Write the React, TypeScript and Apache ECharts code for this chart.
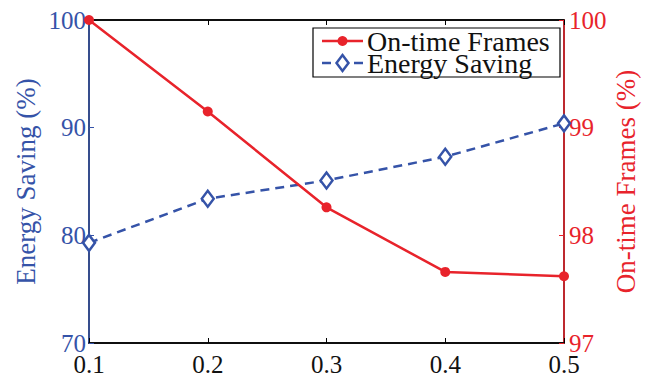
import React, { useEffect, useRef } from "react";
import * as echarts from "echarts";

const alphaValues = ["0.1", "0.2", "0.3", "0.4", "0.5"];
const onTimeFrames = [100, 99.15, 98.26, 97.66, 97.62];
const energySaving = [79.3, 83.4, 85.1, 87.3, 90.4];
const legendNames = ["On-time Frames", "Energy Saving"];

const BLUE = "#3553a8";
const RED = "#e8232b";
const FONT = "Liberation Serif";

export default function App() {
  const ref = useRef<HTMLDivElement>(null);
  useEffect(() => {
    const chart = echarts.init(ref.current!, undefined, { renderer: "svg" });
    const lx = 313, ly = 28, lw = 247, lh = 49;
    const r1 = ly + 13, r2 = ly + 35;
    const ix0 = 322, ix1 = 363, ixm = (ix0 + ix1) / 2;
    chart.setOption({
      animation: false,
      backgroundColor: "#ffffff",
      textStyle: { fontFamily: FONT },
      grid: {
        left: 89,
        right: 86,
        top: 20,
        bottom: 45,
        outerBoundsMode: "none",
        show: true,
        borderColor: "#000",
        borderWidth: 1.5,
      },
      graphic: [
        {
          type: "group",
          z: 100,
          children: [
            { type: "rect", shape: { x: lx, y: ly, width: lw, height: lh }, style: { fill: "#fff", stroke: "#000", lineWidth: 1.2 } },
            { type: "line", shape: { x1: ix0, y1: r1, x2: ix1, y2: r1 }, style: { stroke: RED, lineWidth: 2.5 } },
            { type: "circle", shape: { cx: ixm, cy: r1, r: 5 }, style: { fill: RED } },
            { type: "text", x: 367, y: r1, style: { text: legendNames[0], fontFamily: FONT, fontSize: 28, lineHeight: 21, fill: "#111", verticalAlign: "middle", align: "left" } },
            { type: "line", shape: { x1: ix0, y1: r2, x2: ix0 + 9, y2: r2 }, style: { stroke: BLUE, lineWidth: 2.5 } },
            { type: "line", shape: { x1: ix1 - 9, y1: r2, x2: ix1, y2: r2 }, style: { stroke: BLUE, lineWidth: 2.5 } },
            { type: "polygon", shape: { points: [[ixm, r2 - 8], [ixm + 6, r2], [ixm, r2 + 8], [ixm - 6, r2]] }, style: { fill: "#fff", stroke: BLUE, lineWidth: 2.5 } },
            { type: "text", x: 367, y: r2, style: { text: legendNames[1], fontFamily: FONT, fontSize: 28, lineHeight: 21, fill: "#111", verticalAlign: "middle", align: "left" } },
          ],
        },
      ],
      xAxis: [
        {
          type: "category",
          data: alphaValues,
          boundaryGap: false,
          position: "bottom",
          axisLine: { lineStyle: { color: "#000", width: 1.5 } },
          axisTick: { inside: true, length: 5, lineStyle: { color: "#000" } },
          axisLabel: { fontFamily: FONT, fontSize: 25, color: "#111", margin: 9 },
          name: "α",
          nameLocation: "middle",
          nameGap: 29,
          nameMoveOverlap: false,
          nameTextStyle: { fontFamily: FONT, fontSize: 25, fontStyle: "italic", color: "#111" },
        },
        {
          type: "category",
          data: alphaValues,
          boundaryGap: false,
          position: "top",
          axisLine: { lineStyle: { color: "#000", width: 1.5 } },
          axisTick: { inside: true, length: 5, lineStyle: { color: "#000" } },
          axisLabel: { show: false },
        },
      ],
      yAxis: [
        {
          type: "value",
          min: 70,
          max: 100,
          interval: 10,
          position: "left",
          splitLine: { show: false },
          axisLine: { show: true, lineStyle: { color: BLUE, width: 1.5 } },
          axisTick: { show: true, inside: true, length: 5, lineStyle: { color: BLUE } },
          axisLabel: { fontFamily: FONT, fontSize: 25, color: BLUE, margin: 3 },
          name: "Energy Saving (%)",
          nameLocation: "middle",
          nameRotate: 90,
          nameGap: 50,
          nameMoveOverlap: false,
          nameTextStyle: { fontFamily: FONT, fontSize: 27, color: BLUE },
        },
        {
          type: "value",
          min: 97,
          max: 100,
          interval: 1,
          position: "right",
          splitLine: { show: false },
          axisLine: { show: true, lineStyle: { color: RED, width: 1.5 } },
          axisTick: { show: true, inside: true, length: 5, lineStyle: { color: RED } },
          axisLabel: { fontFamily: FONT, fontSize: 25, color: RED, margin: 5 },
          name: "On-time Frames (%)",
          nameLocation: "middle",
          nameRotate: 90,
          nameGap: 48,
          nameMoveOverlap: false,
          nameTextStyle: { fontFamily: FONT, fontSize: 27, color: RED },
        },
      ],
      series: [
        {
          name: "Energy Saving",
          type: "line",
          yAxisIndex: 0,
          xAxisIndex: 0,
          data: energySaving,
          symbol: "diamond",
          symbolSize: [12, 16],
          showAllSymbol: true,
          z: 2,
          lineStyle: { color: BLUE, width: 2.5, type: [9, 6] },
          itemStyle: { color: "#fff", borderColor: BLUE, borderWidth: 2.5 },
        },
        {
          name: "On-time Frames",
          type: "line",
          yAxisIndex: 1,
          xAxisIndex: 0,
          data: onTimeFrames,
          symbol: "circle",
          symbolSize: 10,
          showAllSymbol: true,
          z: 3,
          lineStyle: { color: RED, width: 2.5 },
          itemStyle: { color: RED },
        },
      ],
    });
    return () => chart.dispose();
  }, []);
  return <div ref={ref} style={{ width: 650, height: 388, margin: -8 }} />;
}
